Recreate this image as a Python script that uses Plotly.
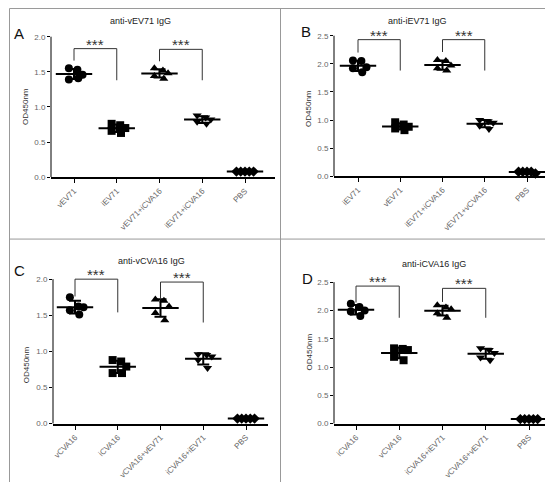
import numpy as np
import plotly.graph_objects as go

W, H = 553, 482

# ---------------- data ----------------
CATS_A = ["vEV71", "iEV71", "vEV71+iCVA16", "iEV71+iCVA16", "PBS"]
CATS_B = ["iEV71", "vEV71", "iEV71+iCVA16", "vEV71+vCVA16", "PBS"]
CATS_C = ["vCVA16", "iCVA16", "vCVA16+vEV71", "iCVA16+iEV71", "PBS"]
CATS_D = ["iCVA16", "vCVA16", "iCVA16+iEV71", "vCVA16+vEV71", "PBS"]

VALS_A = [
    [1.55, 1.53, 1.46, 1.39, 1.41],
    [0.76, 0.74, 0.70, 0.66, 0.63],
    [1.55, 1.52, 1.48, 1.44, 1.40],
    [0.88, 0.85, 0.82, 0.79, 0.76],
    [0.08, 0.08, 0.08, 0.08, 0.08],
]
VALS_B = [
    [2.06, 2.05, 1.94, 1.92, 1.85],
    [0.96, 0.92, 0.88, 0.85, 0.82],
    [2.07, 2.05, 1.97, 1.92, 1.88],
    [1.00, 0.98, 0.95, 0.90, 0.84],
    [0.08, 0.08, 0.08, 0.08, 0.05],
]
VALS_C = [
    [1.75, 1.62, 1.61, 1.57, 1.51],
    [0.88, 0.86, 0.79, 0.70, 0.70],
    [1.72, 1.70, 1.62, 1.53, 1.43],
    [0.96, 0.95, 0.93, 0.88, 0.77],
    [0.07, 0.07, 0.07, 0.07, 0.07],
]
VALS_D = [
    [2.12, 2.06, 2.00, 1.98, 1.90],
    [1.33, 1.32, 1.30, 1.18, 1.12],
    [2.09, 2.05, 2.02, 1.95, 1.87],
    [1.33, 1.30, 1.25, 1.17, 1.12],
    [0.08, 0.08, 0.08, 0.08, 0.08],
]

TITLES = ["anti-vEV71 IgG", "anti-iEV71 IgG", "anti-vCVA16 IgG", "anti-iCVA16 IgG"]
LETTERS = ["A", "B", "C", "D"]
YTICKS_A = [0.0, 0.5, 1.0, 1.5, 2.0]
YTICKS_B = [0.0, 0.5, 1.0, 1.5, 2.0, 2.5]

# brackets: (cat_left, cat_right, left_leg_bottom, top, right_leg_bottom)
BRACKETS_A = [(0, 1, 1.66, 1.83, 1.38), (2, 3, 1.65, 1.82, 1.38)]
BRACKETS_B = [(0, 1, 2.20, 2.43, 1.88), (2, 3, 2.21, 2.43, 1.88)]
BRACKETS_C = [(0, 1, 1.76, 2.00, 1.54), (2, 3, 1.72, 1.96, 1.40)]
BRACKETS_D = [(0, 1, 2.14, 2.43, 1.87), (2, 3, 2.15, 2.39, 1.87)]

SYMBOLS = ["circle", "square", "triangle-up", "triangle-down", "diamond"]
OFFSETS_CLUSTER = [-0.12, 0.08, 0.2, -0.12, 0.1]
OFFSETS_SPREAD = [-0.2, -0.1, 0.0, 0.1, 0.2]

# ---------------- layout geometry (pixels) ----------------
PANELS = [
    dict(cats=CATS_A, vals=VALS_A, ticks=YTICKS_A, br=BRACKETS_A,
         xl=43, xr=267, c0=66, dc=42.75, y0=171, yu=71.0, ytop=2.3,
         title=(132, 13), letter=(11, 26), ytitle=(18, 100)),
    dict(cats=CATS_B, vals=VALS_B, ticks=YTICKS_B, br=BRACKETS_B,
         xl=326, xr=543, c0=350, dc=42.25, y0=170, yu=56.8, ytop=2.75,
         title=(409, 13), letter=(298, 24), ytitle=(301, 102)),
    dict(cats=CATS_C, vals=VALS_C, ticks=YTICKS_A, br=BRACKETS_C,
         xl=45, xr=260, c0=67, dc=42.75, y0=420, yu=73.0, ytop=2.25,
         title=(143, 256), letter=(11, 265), ytitle=(18, 361)),
    dict(cats=CATS_D, vals=VALS_D, ticks=YTICKS_B, br=BRACKETS_D,
         xl=326, xr=543, c0=348, dc=43.25, y0=420, yu=57.2, ytop=2.7,
         title=(426, 259), letter=(299, 273), ytitle=(301, 348)),
]

FONT = "Arial, 'Liberation Sans', sans-serif"
fig = go.Figure()
annotations = []
shapes = []

for i, p in enumerate(PANELS):
    n = i + 1
    xa = "x" if n == 1 else f"x{n}"
    ya = "y" if n == 1 else f"y{n}"
    xkey = "xaxis" if n == 1 else f"xaxis{n}"
    ykey = "yaxis" if n == 1 else f"yaxis{n}"

    xmin = (p["xl"] - p["c0"]) / p["dc"]
    xmax = (p["xr"] - p["c0"]) / p["dc"]
    ytop_px = p["y0"] - p["ytop"] * p["yu"]
    dom_x = [p["xl"] / W, p["xr"] / W]
    dom_y = [1 - p["y0"] / H, 1 - ytop_px / H]

    for g, vals in enumerate(p["vals"]):
        offs = OFFSETS_SPREAD if g == 4 else OFFSETS_CLUSTER
        xs = [g + o for o in offs]
        fig.add_trace(go.Scatter(
            x=xs, y=vals, mode="markers", xaxis=xa, yaxis=ya,
            marker=dict(symbol=SYMBOLS[g], size=8, color="black"),
            cliponaxis=False, showlegend=False, hoverinfo="y"))
        m = float(np.mean(vals))
        sd = float(np.std(vals, ddof=1))
        fig.add_trace(go.Scatter(
            x=[g], y=[m], mode="markers", xaxis=xa, yaxis=ya,
            marker=dict(symbol="line-ew", size=26,
                        line=dict(width=2, color="black")),
            error_y=dict(type="data", array=[sd], visible=True,
                         thickness=2, width=6, color="black"),
            cliponaxis=False, showlegend=False, hoverinfo="y"))

    for (a, b, l0, top, r0) in p["br"]:
        fig.add_trace(go.Scatter(
            x=[a, a, b, b], y=[l0, top, top, r0], mode="lines",
            xaxis=xa, yaxis=ya, line=dict(color="#333", width=1),
            showlegend=False, hoverinfo="skip"))
        annotations.append(dict(
            x=(a + b) / 2, y=top, xref=xa, yref=ya, text="***",
            showarrow=False, yanchor="bottom", yshift=-6,
            font=dict(size=15, color="#333", family=FONT)))

    fig.layout[xkey] = dict(
        domain=dom_x, range=[xmin, xmax], anchor=ya,
        tickvals=list(range(len(p["cats"]))), ticktext=p["cats"],
        tickangle=-45, ticks="outside", ticklen=4, tickwidth=1,
        tickcolor="black", showline=True, linecolor="black", linewidth=2,
        showgrid=False, zeroline=False,
        tickfont=dict(size=8, color="#666", family=FONT))
    fig.layout[ykey] = dict(
        domain=dom_y, range=[0, p["ytop"]], anchor=xa,
        tickvals=p["ticks"], tickformat=".1f",
        ticks="outside", ticklen=3, tickwidth=1, tickcolor="black",
        showline=False, showgrid=False, zeroline=False,
        tickfont=dict(size=8, color="#666", family=FONT))

    shapes.append(dict(type="line", xref="paper", yref=ya,
                       x0=dom_x[0], x1=dom_x[0], y0=0, y1=p["ticks"][-1],
                       line=dict(color="black", width=1)))

    annotations.append(dict(x=p["title"][0] / W, y=1 - p["title"][1] / H,
                            xref="paper", yref="paper", text=TITLES[i],
                            showarrow=False, xanchor="center", yanchor="middle",
                            font=dict(size=9, color="#222", family=FONT)))
    annotations.append(dict(x=p["letter"][0] / W, y=1 - p["letter"][1] / H,
                            xref="paper", yref="paper", text=LETTERS[i],
                            showarrow=False, xanchor="center", yanchor="middle",
                            font=dict(size=15, color="#111", family=FONT)))
    annotations.append(dict(x=p["ytitle"][0] / W, y=1 - p["ytitle"][1] / H,
                            xref="paper", yref="paper", text="OD450nm",
                            textangle=-90, showarrow=False,
                            xanchor="center", yanchor="middle",
                            font=dict(size=8, color="#333", family=FONT)))

# panel frames
FRAME = dict(color="#999", width=1)
shapes.append(dict(type="rect", xref="paper", yref="paper",
                   x0=1.5 / W, x1=549.5 / W, y0=1 - 479.5 / H, y1=1 - 0.5 / H,
                   line=FRAME))
shapes.append(dict(type="line", xref="paper", yref="paper",
                   x0=272.5 / W, x1=272.5 / W, y0=1 - 479.5 / H, y1=1 - 0.5 / H,
                   line=FRAME))
shapes.append(dict(type="line", xref="paper", yref="paper",
                   x0=1.5 / W, x1=549.5 / W, y0=1 - 233.5 / H, y1=1 - 233.5 / H,
                   line=FRAME))

fig.update_layout(
    width=W, height=H, margin=dict(l=0, r=0, t=0, b=0),
    paper_bgcolor="white", plot_bgcolor="white",
    annotations=annotations, shapes=shapes, showlegend=False,
    font=dict(family=FONT))

fig.write_html("out.html")
